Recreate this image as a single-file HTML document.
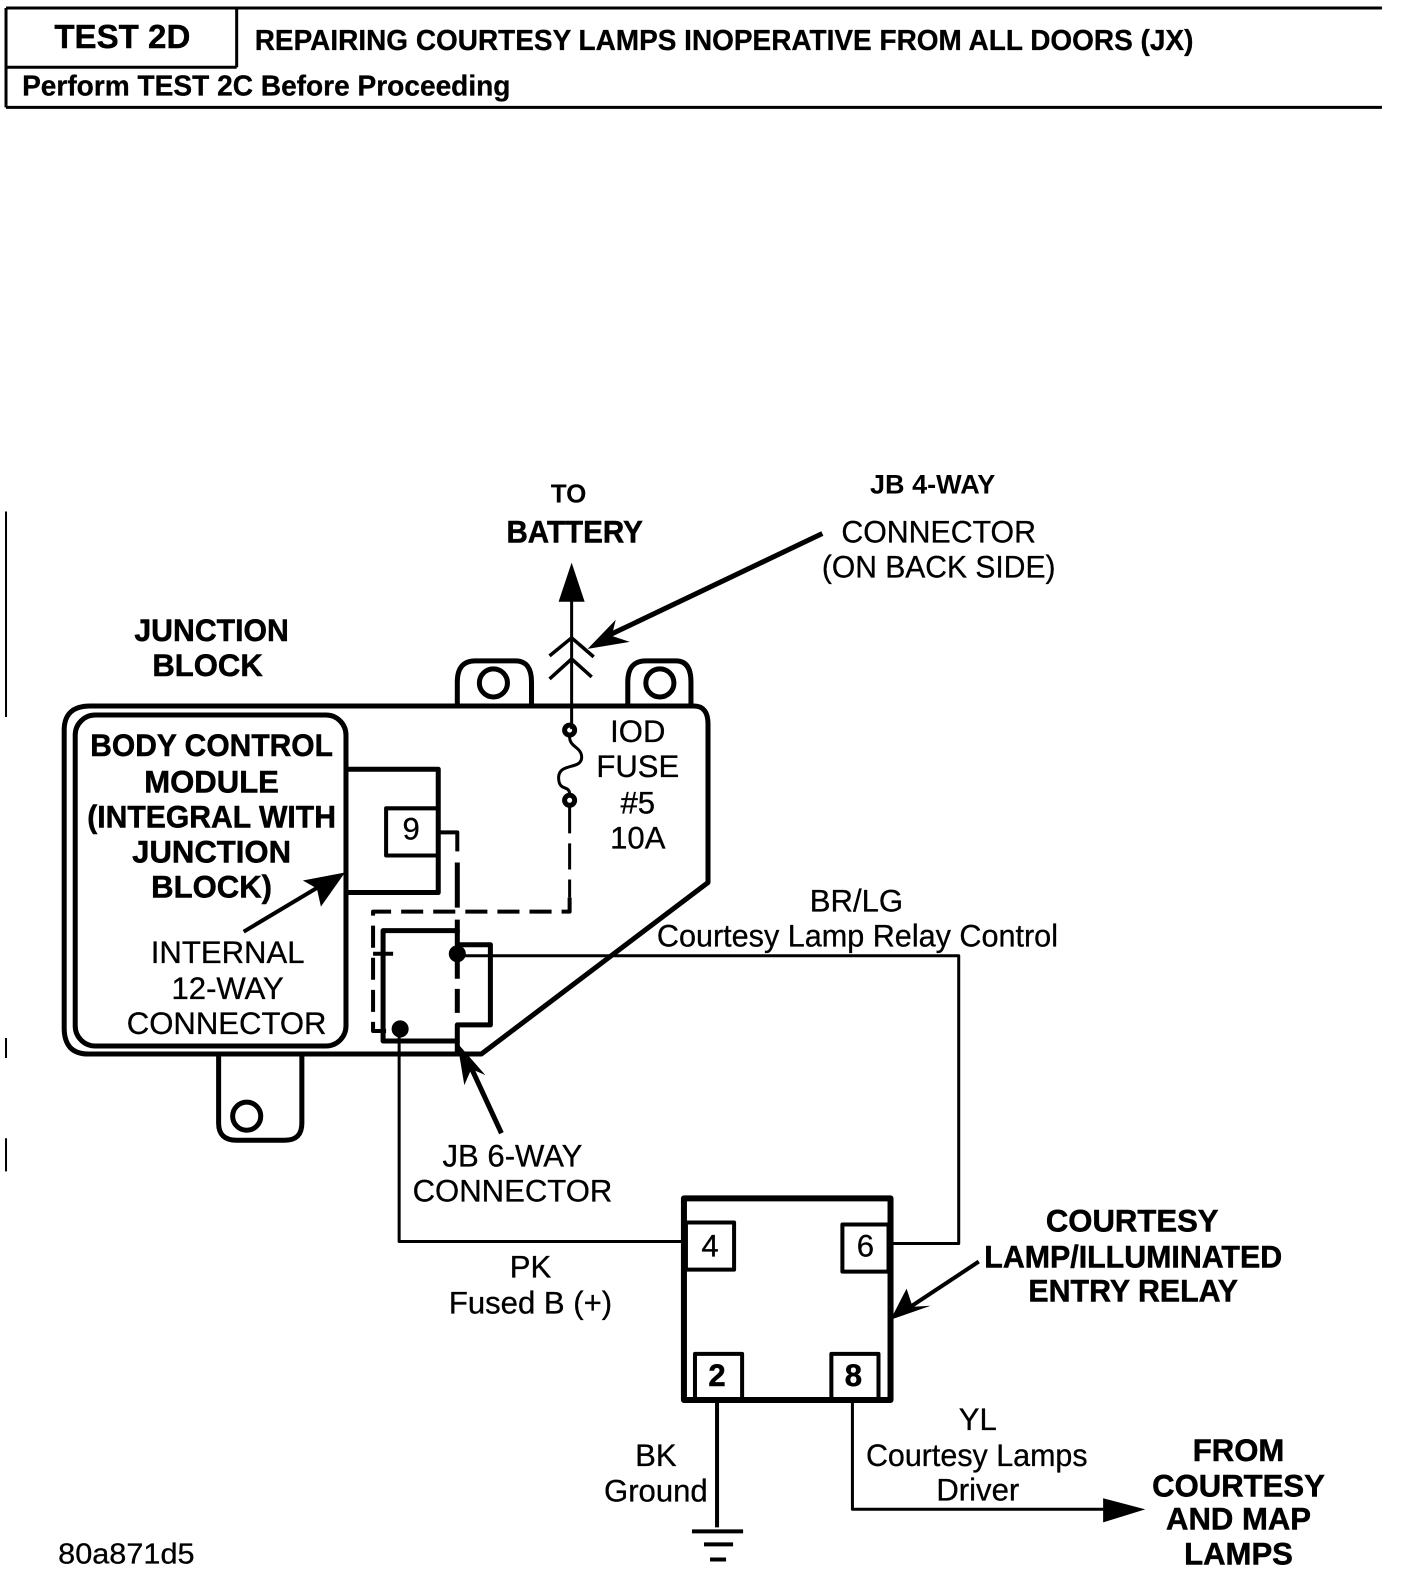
<!DOCTYPE html>
<html><head><meta charset="utf-8"><style>
html,body{margin:0;padding:0;background:#fff}
svg{display:block}
text{font-family:"Liberation Sans",sans-serif;fill:#000;text-anchor:middle}
.b{font-weight:bold;font-size:31px;stroke:#000;stroke-width:.5px}
.r{font-size:31px;stroke:#000;stroke-width:.3px}
.h{font-weight:bold;font-size:29px;stroke:#000;stroke-width:.3px;text-anchor:start}
</style></head><body>
<svg width="1408" height="1572" viewBox="0 0 1404 1567.5" xmlns="http://www.w3.org/2000/svg">
<g fill="none" stroke="#000" stroke-linejoin="round">
<!-- header -->
<path d="M6 8H1378M6 8V107M6 67H236M236 8V67M6 107H1378" stroke-width="3"/>
<path d="M6 510V715M6 1035V1055M6 1135V1168" stroke-width="2"/>
<!-- junction block outline -->
<path d="M90 704H692Q706 704 706 722V880L480 1051H88Q64 1051 64 1025V728Q64 704 90 704Z" stroke-width="5"/>
<rect x="75" y="713" width="270" height="330" rx="20" stroke-width="5"/>
<!-- tabs -->
<path d="M456 702V680Q456 659 474 659H514Q530 659 530 680V702" stroke-width="5"/>
<path d="M626 702V680Q626 659 644 659H674Q689 659 689 680V702" stroke-width="5"/>
<circle cx="492" cy="681" r="14" stroke-width="5"/>
<circle cx="658" cy="681" r="14" stroke-width="5"/>
<path d="M218 1053V1120Q218 1137 236 1137H284Q301 1137 301 1120V1053" stroke-width="5"/>
<circle cx="246" cy="1113" r="14" stroke-width="5"/>
<!-- BCM internal connector -->
<path d="M346 767H437V890H346" stroke-width="5"/>
<rect x="385" y="806" width="52" height="47" stroke-width="4"/>
<path d="M439 830H456V849" stroke-width="4"/>
<path d="M456 860V905M456 917V930" stroke-width="5"/>
<path d="M456 952V1012" stroke-width="5" stroke-dasharray="24 10"/>
<path d="M568 805V895" stroke-width="3" stroke-dasharray="26 10"/>
<path d="M568 895V909H372V1028H385" stroke-width="4" stroke-dasharray="22 10"/>
<path d="M372 951H392" stroke-width="4"/>
<!-- 6-way -->
<path d="M382 928H456V942H489V1022H456V1038H382Z" stroke-width="5"/>
<path d="M456 1038V1050" stroke-width="5"/>
<circle cx="456" cy="951" r="8" fill="#000"/>
<circle cx="399" cy="1026" r="8" fill="#000"/>
<!-- battery / fuse -->
<path d="M570 595V727" stroke-width="3"/>
<path d="M548 654L570 636L592 655M548 677L570 657L590 675" stroke-width="3.5"/>
<path d="M568 735C568 745 580 745 580 755C580 768 558 760 557 775C557 790 568 782 568 792" stroke-width="3"/>
<circle cx="568" cy="728" r="5" stroke-width="5"/>
<circle cx="568" cy="798" r="5" stroke-width="5"/>
<!-- wires -->
<path d="M456 953H956V1240H889" stroke-width="3"/>
<path d="M398 1030V1238H682" stroke-width="3"/>
<!-- relay -->
<rect x="682" y="1195" width="206" height="201" stroke-width="6"/>
<rect x="684" y="1219" width="48" height="47" stroke-width="4"/>
<rect x="840" y="1221" width="46" height="47" stroke-width="4"/>
<rect x="693" y="1350" width="47" height="46" stroke-width="4"/>
<rect x="829" y="1350" width="47" height="46" stroke-width="4"/>
<path d="M715 1398V1523" stroke-width="4"/>
<path d="M690 1527H741M702 1540H731M708 1555H724" stroke-width="4"/>
<path d="M850 1398V1505H1110" stroke-width="3"/>
<!-- leaders -->
<path d="M820 532L606 634" stroke-width="5"/>
<path d="M243 929L320 883" stroke-width="4"/>
<path d="M500 1130L470 1065" stroke-width="5"/>
<path d="M976 1258L908 1303" stroke-width="4"/>
</g>
<g fill="#000">
<path d="M570 561L583 600H557Z"/>
<path d="M586 647L614 618L610 634L628 640Z"/>
<path d="M344 870L320 904L316 886L302 878Z"/>
<path d="M456 1040L484 1072L470 1066L463 1082Z"/>
<path d="M888 1316L904 1285L910 1303L928 1302Z"/>
<path d="M1142 1505L1100 1518V1494Z"/>
</g>
<!-- header text -->
<text x="122" y="48" style="font-weight:bold;font-size:33px;stroke:#000;stroke-width:.4px">TEST 2D</text>
<text class="h" x="254" y="50" textLength="936" lengthAdjust="spacingAndGlyphs">REPAIRING COURTESY LAMPS INOPERATIVE FROM ALL DOORS (JX)</text>
<text class="h" x="22" y="95" textLength="487" lengthAdjust="spacingAndGlyphs">Perform TEST 2C Before Proceeding</text>
<!-- labels -->
<text x="567" y="501" style="font-weight:bold;font-size:26px">TO</text>
<text class="b" x="573" y="541" textLength="136" lengthAdjust="spacingAndGlyphs">BATTERY</text>
<text x="930" y="492" style="font-weight:bold;font-size:27px">JB 4-WAY</text>
<text class="r" x="936" y="541" textLength="194" lengthAdjust="spacingAndGlyphs">CONNECTOR</text>
<text class="r" x="936" y="576" textLength="233" lengthAdjust="spacingAndGlyphs">(ON BACK SIDE)</text>
<text class="b" x="211" y="639" textLength="154" lengthAdjust="spacingAndGlyphs">JUNCTION</text>
<text class="b" x="207" y="674">BLOCK</text>
<text class="b" x="211" y="754" textLength="242" lengthAdjust="spacingAndGlyphs">BODY CONTROL</text>
<text class="b" x="211" y="790">MODULE</text>
<text class="b" x="211" y="825" textLength="248" lengthAdjust="spacingAndGlyphs">(INTEGRAL WITH</text>
<text class="b" x="211" y="860">JUNCTION</text>
<text class="b" x="211" y="895">BLOCK)</text>
<text class="r" x="227" y="960">INTERNAL</text>
<text class="r" x="227" y="996">12-WAY</text>
<text class="r" x="226" y="1031">CONNECTOR</text>
<text class="r" x="636" y="740">IOD</text>
<text class="r" x="636" y="775">FUSE</text>
<text class="r" x="636" y="811">#5</text>
<text class="r" x="636" y="846">10A</text>
<text class="r" x="410" y="837">9</text>
<text class="r" x="854" y="909">BR/LG</text>
<text class="r" x="855" y="944" textLength="400" lengthAdjust="spacingAndGlyphs">Courtesy Lamp Relay Control</text>
<text class="r" x="511" y="1163">JB 6-WAY</text>
<text class="r" x="511" y="1198">CONNECTOR</text>
<text class="r" x="529" y="1274">PK</text>
<text class="r" x="529" y="1310">Fused B (+)</text>
<text class="r" x="708" y="1253">4</text>
<text class="r" x="863" y="1253">6</text>
<text class="b" x="715" y="1382">2</text>
<text class="b" x="851" y="1382">8</text>
<text class="b" x="1129" y="1228">COURTESY</text>
<text class="b" x="1130" y="1264" textLength="297" lengthAdjust="spacingAndGlyphs">LAMP/ILLUMINATED</text>
<text class="b" x="1130" y="1298" textLength="209" lengthAdjust="spacingAndGlyphs">ENTRY RELAY</text>
<text class="r" x="975" y="1426">YL</text>
<text class="r" x="974" y="1462" textLength="221" lengthAdjust="spacingAndGlyphs">Courtesy Lamps</text>
<text class="r" x="975" y="1496">Driver</text>
<text class="r" x="654" y="1462">BK</text>
<text class="r" x="654" y="1497">Ground</text>
<text class="b" x="1235" y="1457">FROM</text>
<text class="b" x="1235" y="1492">COURTESY</text>
<text class="b" x="1235" y="1525">AND MAP</text>
<text class="b" x="1235" y="1560">LAMPS</text>
<text class="r" x="126" y="1559" style="font-size:29px" textLength="136" lengthAdjust="spacingAndGlyphs">80a871d5</text>
</svg>
</body></html>
